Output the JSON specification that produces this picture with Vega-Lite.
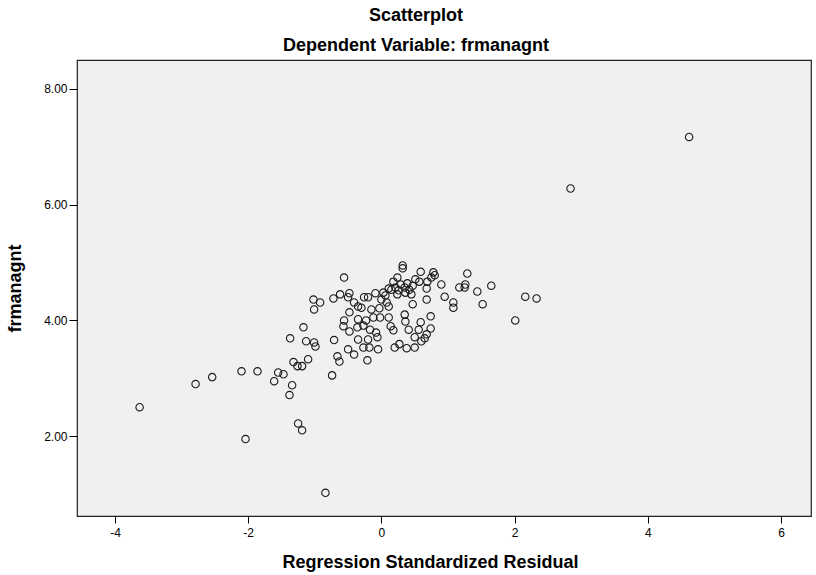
{
  "$schema": "https://vega.github.io/schema/vega-lite/v6.json",
  "width": 734,
  "height": 456,
  "autosize": "none",
  "padding": {"left": 77, "top": 60, "right": 5, "bottom": 59},
  "background": "white",
  "config": {
    "font": "Liberation Sans",
    "view": {"fill": "#f0f0f0", "stroke": "#222222", "strokeWidth": 1.2}
  },
  "title": {
    "text": "Scatterplot",
    "subtitle": "Dependent Variable: frmanagnt",
    "anchor": "middle",
    "frame": "group",
    "dx": -28,
    "offset": 5,
    "fontSize": 18,
    "fontWeight": "bold",
    "subtitleFontSize": 18,
    "subtitleFontWeight": "bold",
    "subtitleColor": "black",
    "color": "black",
    "subtitlePadding": 12
  },
  "data": {
    "values": [
      {"r": 4.62, "y": 7.17}, {"r": 2.84, "y": 6.28}, {"r": -0.84, "y": 1.02}, {"r": -3.63, "y": 2.5},
      {"r": -2.04, "y": 1.95}, {"r": -2.79, "y": 2.9}, {"r": -2.54, "y": 3.02}, {"r": -2.1, "y": 3.12},
      {"r": -1.86, "y": 3.12}, {"r": -1.61, "y": 2.95}, {"r": -1.55, "y": 3.1}, {"r": -1.47, "y": 3.07},
      {"r": -1.37, "y": 3.69}, {"r": -1.32, "y": 3.28}, {"r": -1.34, "y": 2.88}, {"r": -1.38, "y": 2.71},
      {"r": -1.26, "y": 3.21}, {"r": -1.19, "y": 3.21}, {"r": -1.25, "y": 2.22}, {"r": -1.19, "y": 2.1},
      {"r": -1.17, "y": 3.88}, {"r": -1.13, "y": 3.64}, {"r": -1.1, "y": 3.33}, {"r": -1.02, "y": 4.36},
      {"r": -1.01, "y": 4.19}, {"r": -1.01, "y": 3.62}, {"r": -0.99, "y": 3.55}, {"r": -0.92, "y": 4.31},
      {"r": -0.74, "y": 3.05}, {"r": -0.66, "y": 3.38}, {"r": -0.63, "y": 3.29}, {"r": -0.71, "y": 3.66},
      {"r": -0.72, "y": 4.38}, {"r": -0.62, "y": 4.45}, {"r": -0.56, "y": 4.74}, {"r": -0.48, "y": 4.47},
      {"r": -0.5, "y": 4.4}, {"r": -0.57, "y": 3.9}, {"r": -0.56, "y": 4.0}, {"r": -0.48, "y": 4.14},
      {"r": -0.48, "y": 3.81}, {"r": -0.5, "y": 3.5}, {"r": -0.41, "y": 3.41}, {"r": -0.41, "y": 4.31},
      {"r": -0.35, "y": 4.24}, {"r": -0.3, "y": 4.22}, {"r": -0.36, "y": 3.88}, {"r": -0.35, "y": 4.02},
      {"r": -0.35, "y": 3.67}, {"r": -0.27, "y": 3.91}, {"r": -0.27, "y": 3.53}, {"r": -0.26, "y": 4.4},
      {"r": -0.2, "y": 4.4}, {"r": -0.23, "y": 4.0}, {"r": -0.21, "y": 3.31}, {"r": -0.2, "y": 3.67},
      {"r": -0.18, "y": 3.53}, {"r": -0.17, "y": 3.84}, {"r": -0.15, "y": 4.19}, {"r": -0.12, "y": 4.05},
      {"r": -0.09, "y": 4.47}, {"r": -0.08, "y": 3.79}, {"r": -0.06, "y": 3.71}, {"r": -0.05, "y": 3.5},
      {"r": -0.03, "y": 4.21}, {"r": -0.02, "y": 4.05}, {"r": 0.03, "y": 4.48}, {"r": 0.08, "y": 4.31},
      {"r": 0.11, "y": 4.24}, {"r": 0.11, "y": 4.05}, {"r": 0.11, "y": 4.55}, {"r": 0.14, "y": 3.9},
      {"r": 0.18, "y": 3.83}, {"r": 0.2, "y": 3.53}, {"r": 0.27, "y": 3.59}, {"r": 0.38, "y": 3.52},
      {"r": 0.32, "y": 4.95}, {"r": 0.32, "y": 4.9}, {"r": 0.18, "y": 4.67}, {"r": 0.21, "y": 4.57},
      {"r": 0.26, "y": 4.52}, {"r": 0.24, "y": 4.45}, {"r": 0.15, "y": 4.53}, {"r": 0.29, "y": 4.62},
      {"r": 0.35, "y": 4.57}, {"r": 0.39, "y": 4.64}, {"r": 0.42, "y": 4.53}, {"r": 0.47, "y": 4.6},
      {"r": 0.36, "y": 4.48}, {"r": 0.45, "y": 4.45}, {"r": 0.35, "y": 4.1}, {"r": 0.36, "y": 3.98},
      {"r": 0.41, "y": 3.84}, {"r": 0.47, "y": 4.28}, {"r": 0.5, "y": 3.71}, {"r": 0.56, "y": 3.84},
      {"r": 0.59, "y": 3.97}, {"r": 0.65, "y": 3.69}, {"r": 0.68, "y": 3.76}, {"r": 0.74, "y": 3.86},
      {"r": 0.74, "y": 4.07}, {"r": 0.68, "y": 4.36}, {"r": 0.68, "y": 4.55}, {"r": 0.59, "y": 4.84},
      {"r": 0.57, "y": 4.67}, {"r": 0.51, "y": 4.71}, {"r": 0.78, "y": 4.83}, {"r": 0.8, "y": 4.78},
      {"r": 0.9, "y": 4.62}, {"r": 0.95, "y": 4.41}, {"r": 1.08, "y": 4.31}, {"r": 1.08, "y": 4.22},
      {"r": 1.17, "y": 4.57}, {"r": 1.25, "y": 4.57}, {"r": 1.26, "y": 4.62}, {"r": 1.29, "y": 4.81},
      {"r": 1.44, "y": 4.5}, {"r": 1.52, "y": 4.28}, {"r": 1.65, "y": 4.6}, {"r": 2.01, "y": 4.0},
      {"r": 2.16, "y": 4.41}, {"r": 2.33, "y": 4.38}, {"r": 0.5, "y": 3.53}, {"r": 0.6, "y": 3.64},
      {"r": 0.69, "y": 4.67}, {"r": 0.75, "y": 4.74}, {"r": 0.24, "y": 4.74}, {"r": 0.06, "y": 4.43},
      {"r": 0.0, "y": 4.36}
    ]
  },
  "mark": {"type": "point", "shape": "circle", "filled": false, "stroke": "#1a1a1a", "strokeWidth": 1.1, "size": 55, "opacity": 1},
  "encoding": {
    "x": {
      "field": "r",
      "type": "quantitative",
      "scale": {"domain": [-4.57, 6.45], "nice": false, "zero": false},
      "axis": {
        "title": "Regression Standardized Residual",
        "values": [-4, -2, 0, 2, 4, 6],
        "format": "d",
        "labelExpr": "replace(datum.label, '\u2212', '-')",
        "grid": false,
        "domain": false,
        "tickColor": "black",
        "tickSize": 7,
        "labelFontSize": 12,
        "labelColor": "black",
        "labelPadding": 4,
        "titleFontSize": 18,
        "titleFontWeight": "bold",
        "titleColor": "black",
        "titlePadding": 15,
        "titleX": 353
      }
    },
    "y": {
      "field": "y",
      "type": "quantitative",
      "scale": {"domain": [0.62, 8.5], "nice": false, "zero": false},
      "axis": {
        "title": "frmanagnt",
        "values": [2, 4, 6, 8],
        "format": ".2f",
        "grid": false,
        "domain": false,
        "tickColor": "black",
        "tickSize": 8,
        "labelFontSize": 12,
        "labelColor": "black",
        "labelPadding": 2,
        "titleFontSize": 18,
        "titleFontWeight": "bold",
        "titleColor": "black",
        "titlePadding": 19
      }
    }
  }
}
